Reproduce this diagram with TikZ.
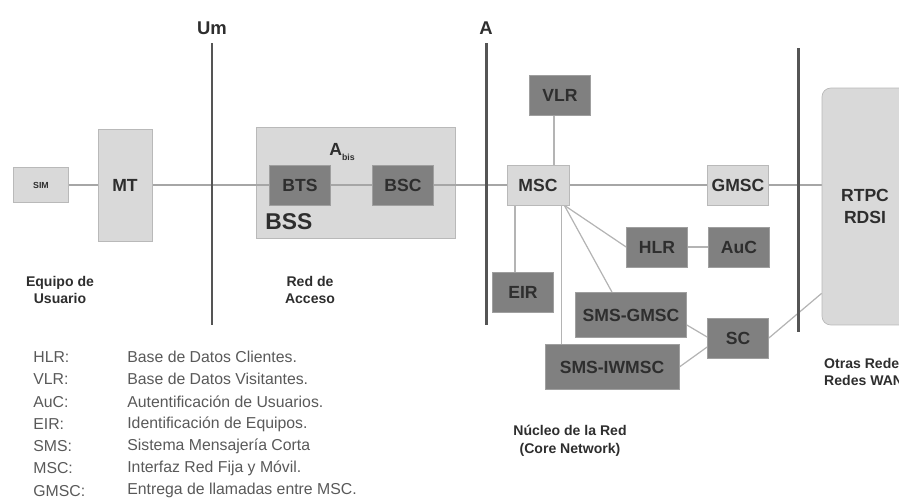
\documentclass[tikz,border=0pt]{standalone}
\usepackage{fontspec}
\setmainfont{Liberation Sans}
\setsansfont{Liberation Sans}
\usepackage{tikz}
\usetikzlibrary{positioning,backgrounds}
\definecolor{cLight}{HTML}{D9D9D9}
\definecolor{cDark}{HTML}{808080}
\definecolor{cLine}{HTML}{B4B4B4}
\definecolor{cBar}{HTML}{555555}
\definecolor{cText}{HTML}{2E2E2E}

\begin{document}
\begin{tikzpicture}[
  x=0.02cm, y=-0.02cm,
  light/.style={
    rectangle, draw=gray!55, fill=cLight, text=cText,
    font=\fontsize{10}{12}\selectfont\bfseries, inner sep=0
  },
  dark/.style={
    rectangle, draw=gray!75, fill=cDark, text=cText,
    minimum width=1.22cm, minimum height=0.8cm,
    font=\fontsize{10}{12}\selectfont\bfseries, inner sep=0
  },
  link/.style={draw=cLine, line width=0.7pt},
  mainline/.style={draw=gray!70, line width=0.7pt},
  bar/.style={draw=cBar, line width=1.7pt},
  grp/.style={font=\fontsize{8}{10}\selectfont\bfseries, text=cText, align=center},
  iface/.style={font=\fontsize{10.5}{12}\selectfont\bfseries, text=cText},
  legend/.style={font=\fontsize{9}{11}\selectfont, text=gray!70!black, anchor=west, inner sep=0},
]
\clip (0,0) rectangle (899,501);
% Access network frame
\begin{scope}[on background layer]
  \node[light,minimum width=3.98cm,minimum height=2.22cm] (bss) at (355.5,182.5) {};
\end{scope}
\node[anchor=west,font=\fontsize{13}{15}\selectfont\bfseries,text=cText,inner sep=0] (bsslbl) at (265,222) {BSS};
% User equipment
\node[light,minimum width=1.1cm,minimum height=0.7cm,font=\fontsize{5}{6}\selectfont\bfseries] (sim) at (41,185) {SIM};
\node[light,minimum width=1.08cm,minimum height=2.24cm] (mt) at (125,185) {MT};
% BSS
\node[dark] (bts) at (300,185) {BTS};
\node[dark] (bsc) at (403,185) {BSC};
\node[font=\fontsize{10}{12}\selectfont\bfseries,text=cText] (abis) at (342,152) {A\raisebox{-0.5ex}{\fontsize{5}{6}\selectfont bis}};
% Core network
\node[dark] (vlr) at (560,95) {VLR};
\node[light,minimum width=1.24cm,minimum height=0.8cm] (msc) at (538,185) {MSC};
\node[light,minimum width=1.22cm,minimum height=0.8cm] (gmsc) at (738,185) {GMSC};
\node[dark] (hlr) at (657,247) {HLR};
\node[dark] (auc) at (739,247) {AuC};
\node[dark] (eir) at (523,292) {EIR};
\node[dark,minimum width=2.22cm,minimum height=0.9cm] (smsg) at (631,315) {SMS-GMSC};
\node[dark,minimum width=2.68cm,minimum height=0.9cm] (smsiw) at (612,367) {SMS-IWMSC};
\node[dark] (sc) at (738,338) {SC};
% Other networks
\node[light,rounded corners=5pt,minimum width=1.72cm,minimum height=4.74cm,align=center,
  font=\fontsize{10}{12.5}\selectfont\bfseries] (rtpc) at (865,206.5) {RTPC\\RDSI};
% Interfaces
\coordinate (umtop) at (212,43);
\coordinate (umbot) at (212,325);
\coordinate (atop) at (486,43);
\coordinate (abot) at (486,325);
\coordinate (rtop) at (798,48);
\coordinate (rbot) at (798,332);
\node[iface] (um) at (212,28) {Um};
\node[iface] (a) at (486,28) {A};
% Connectors
\begin{scope}[on background layer]
  \draw[mainline] (sim) -- (mt) -- (bts) -- (bsc) -- (msc) -- (gmsc);
  \draw[mainline] (gmsc.east) -- (gmsc.east -| rtpc.west);
  \draw[link] ([xshift=-0.12cm]vlr.south) -- ([xshift=-0.12cm]vlr.south |- msc.north);
  \draw[link] ([xshift=-0.16cm]eir.north) -- ([xshift=-0.16cm]eir.north |- msc.south);
  \draw[link] ([xshift=-0.16cm]msc.south east) -- ([xshift=-0.16cm]msc.south east |- smsiw.north);
  \draw[link] ([xshift=-0.1cm]msc.south east) -- (hlr.west);
  \draw[link] ([xshift=-0.1cm]msc.south east) -- ([xshift=-0.38cm]smsg.north);
  \draw[link] (hlr) -- (auc);
  \draw[link] ([yshift=-0.2cm]smsg.east) -- ([yshift=0.02cm]sc.west);
  \draw[link] (smsiw.east) -- ([yshift=-0.18cm]sc.west);
  \draw[link] (sc.east) -- ([yshift=0.64cm]rtpc.south west);
\end{scope}
\draw[bar] (umtop) -- (umbot);
\draw[bar] (atop) -- (abot);
\draw[bar] (rtop) -- (rbot);
% Labels
\node[grp] (equipo) at (60,290) {Equipo de\\Usuario};
\node[grp] (acceso) at (310,290) {Red de\\Acceso};
\node[grp] (nucleo) at (570,441) {Núcleo de la Red\\(Core Network)};
\node[grp,anchor=west,align=left] (otras) at (818,372) {Otras Redes\\Redes WAN};
% Legend
\foreach \abbr/\desc [count=\i from 0] in {
  HLR:/Base de Datos Clientes.,
  VLR:/Base de Datos Visitantes.,
  AuC:/Autentificación de Usuarios.,
  EIR:/Identificación de Equipos.,
  SMS:/Sistema Mensajería Corta,
  MSC:/Interfaz Red Fija y Móvil.,
  GMSC:/Entrega de llamadas entre MSC.}{
  \node[legend] (abbr\i) at (33,{357+22.3*\i}) {\abbr};
  \node[legend] (desc\i) at (127,{357+22.3*\i}) {\desc};
}
\end{tikzpicture}
\end{document}
